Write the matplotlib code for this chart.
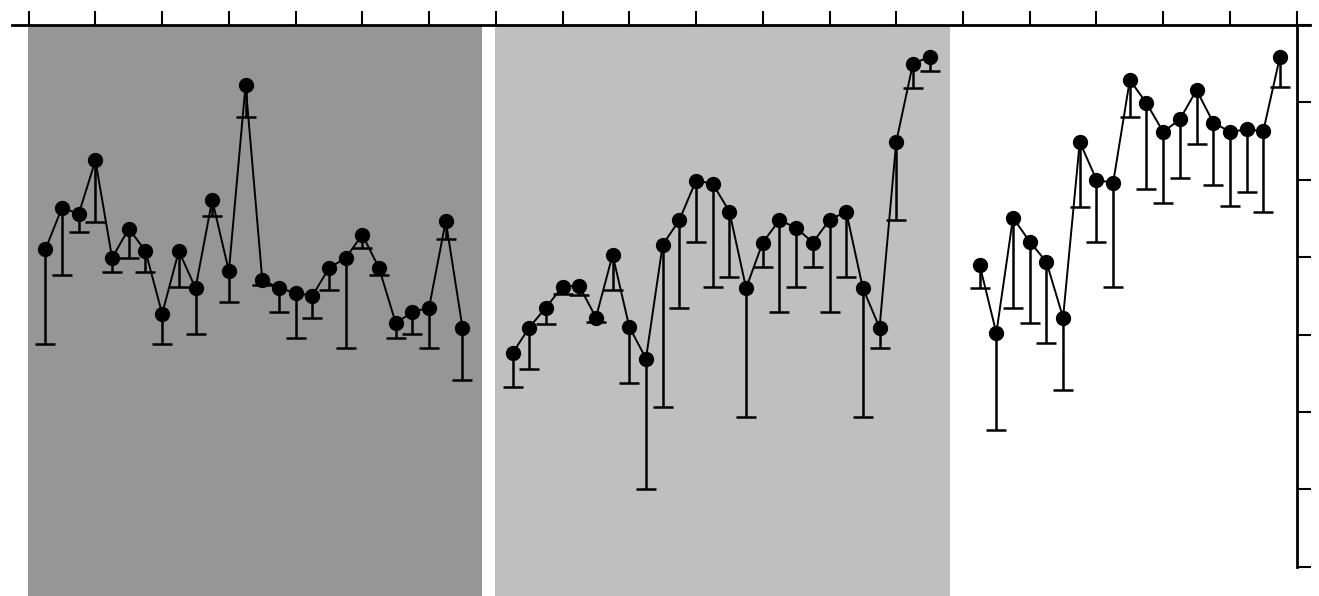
import matplotlib
matplotlib.use("Agg")
import matplotlib.pyplot as plt
import numpy as np

# Panel positions along the shared x axis
x1 = np.arange(0, 26)
x2 = np.arange(28, 54)
x3 = np.arange(56, 75)

# Values and lower error lengths
y1 = [4.10, 4.64, 4.56, 5.25, 3.99, 4.37, 4.08, 3.27, 4.08, 3.60, 4.74, 3.82, 6.23,
      3.71, 3.60, 3.54, 3.50, 3.86, 3.99, 4.29, 3.86, 3.15, 3.29, 3.35, 4.47, 3.09]
e1 = [1.22, 0.87, 0.23, 0.79, 0.18, 0.38, 0.27, 0.39, 0.46, 0.59, 0.21, 0.40, 0.42,
      0.07, 0.31, 0.58, 0.28, 0.29, 1.16, 0.17, 0.09, 0.19, 0.28, 0.52, 0.23, 0.67]

y2 = [2.76, 3.09, 3.35, 3.62, 3.63, 3.22, 4.03, 3.10, 2.69, 4.16, 4.48, 4.99, 4.95,
      4.59, 3.60, 4.19, 4.48, 4.38, 4.19, 4.48, 4.59, 3.60, 3.09, 5.49, 6.50, 6.59]
e2 = [0.44, 0.54, 0.21, 0.10, 0.12, 0.06, 0.45, 0.72, 1.68, 2.09, 1.14, 0.79, 1.33,
      0.85, 1.67, 0.32, 1.19, 0.76, 0.32, 1.19, 0.85, 1.67, 0.26, 1.01, 0.31, 0.18]

y3 = [3.90, 3.02, 4.51, 4.20, 3.94, 3.22, 5.49, 5.00, 4.96, 6.29, 5.99, 5.62, 5.78,
      6.16, 5.74, 5.62, 5.65, 5.63, 6.59]
e3 = [0.30, 1.25, 1.16, 1.05, 1.05, 0.93, 0.84, 0.80, 1.34, 0.48, 1.11, 0.92, 0.76,
      0.70, 0.81, 0.96, 0.81, 1.05, 0.39]

fig = plt.figure(figsize=(13.19, 5.96), dpi=100)
ax = fig.add_axes([12 / 1319, 0, 1298 / 1319, 571 / 596])

# shaded panels
ax.axvspan(x1[0] - 1.06, x1[-1] + 1.2, color="#969696", lw=0, zorder=0)
ax.axvspan(x2[0] - 1.07, x2[-1] + 1.2, color="#bfbfbf", lw=0, zorder=0)

for x, y, e in [(x1, y1, e1), (x2, y2, e2), (x3, y3, e3)]:
    line, caps, bars = ax.errorbar(x, y, yerr=[e, np.zeros(len(e))], fmt="-o",
                                   color="black", lw=1.4, ms=10, elinewidth=1.8,
                                   capsize=7, capthick=1.8)
    caps[1].set_visible(False)  # only lower caps

ax.set_xlim(-2, 75.8)
ax.set_ylim(-0.377, 7)

ax.spines["left"].set_visible(False)
ax.spines["bottom"].set_visible(False)
ax.spines["top"].set_linewidth(2)
ax.spines["right"].set_linewidth(2)
ax.spines["right"].set_position(("data", 75))
ax.spines["right"].set_bounds(0, 7)

ax.xaxis.tick_top()
ax.yaxis.tick_right()
ax.set_xticks(np.arange(-1, 76, 4))
ax.set_yticks(np.arange(0, 8))
ax.tick_params(direction="out", length=10, width=1.5, labeltop=False,
               labelright=False, labelbottom=False, labelleft=False)

fig.savefig("out.png", dpi=100)
